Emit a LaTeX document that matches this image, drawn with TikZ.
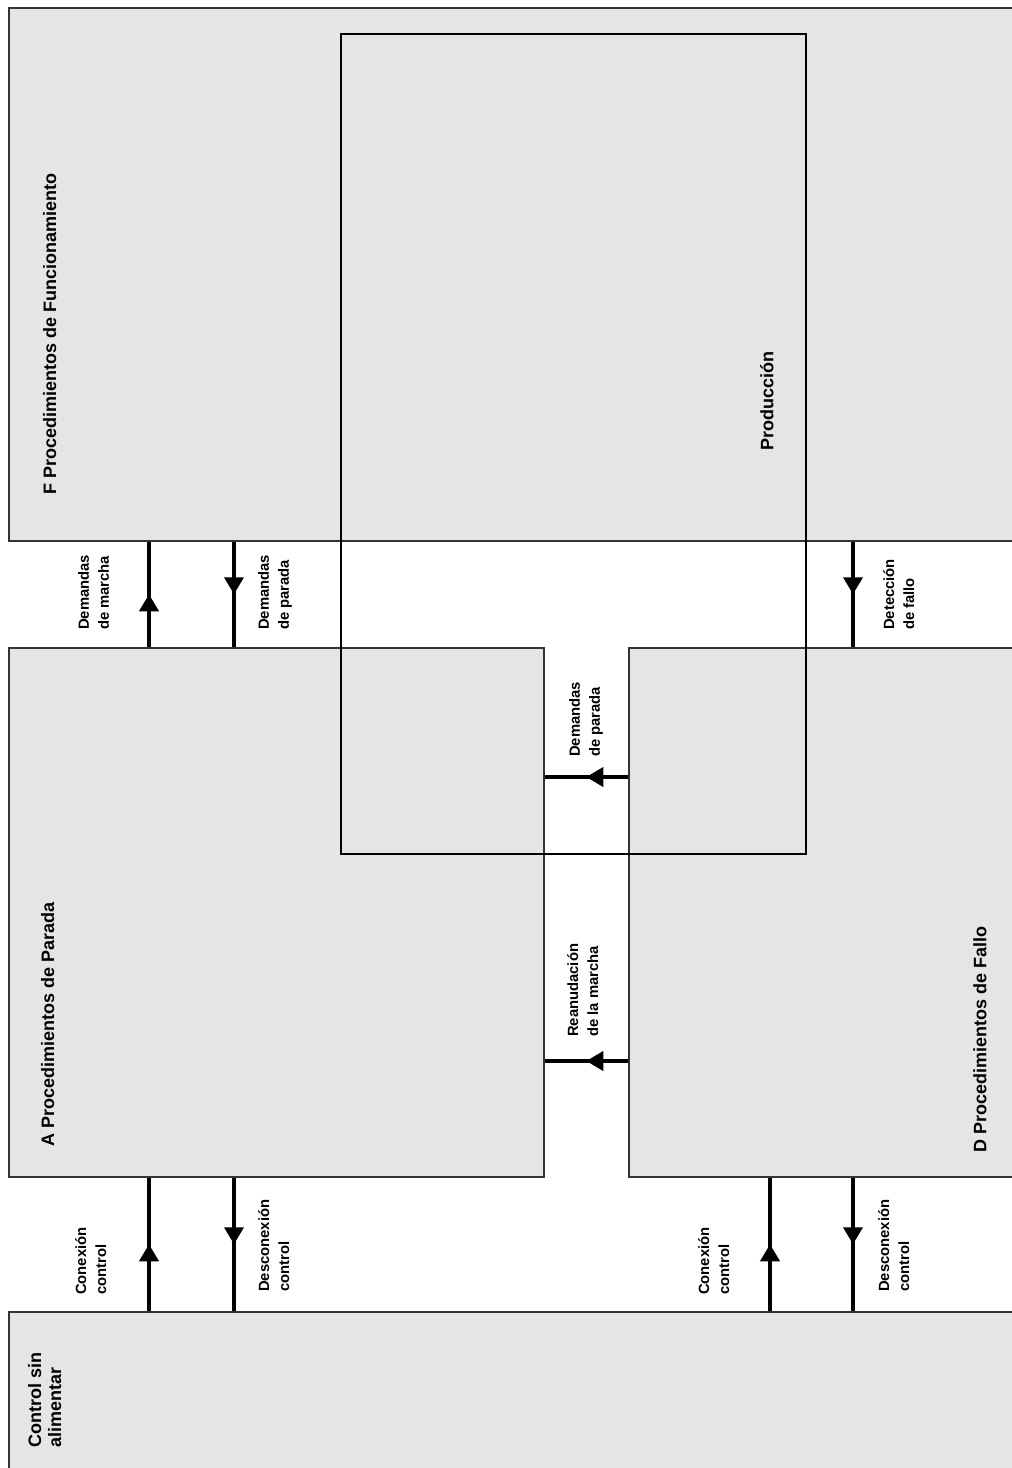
\documentclass[tikz,border=0pt]{standalone}
\usepackage{fontspec}
\setmainfont{Liberation Sans}
\usetikzlibrary{positioning,arrows.meta,decorations.markings}

\begin{document}
\begin{tikzpicture}[x=1pt,y=-1pt,
  bloque/.style={rectangle,draw=black!80,line width=1.5pt,fill=black!10,anchor=north west,inner sep=0pt},
  flujo/.style={line width=3.8pt,postaction={decorate},
    decoration={markings,mark=at position 0.5 with {\arrow{Triangle[length=17pt,width=19pt]}}}},
  titulo/.style={rotate=90,anchor=north west,inner sep=0pt,align=left,font=\fontsize{18}{20}\selectfont\bfseries},
  etiqueta/.style={rotate=90,anchor=north west,inner sep=0pt,align=left,font=\fontsize{14.8}{20}\selectfont\bfseries}]
\useasboundingbox (0,0) rectangle (1012,1468);

% bloques
\node[bloque,minimum width=1012pt,minimum height=533pt] (fproc) at (8,7) {};
\node[bloque,minimum width=535pt,minimum height=529pt] (apar) at (8,647) {};
\node[bloque,minimum width=392pt,minimum height=529pt] (dproc) at (628,647) {};
\node[bloque,minimum width=1012pt,minimum height=170pt] (ctrl) at (8,1311) {};
\node[rectangle,draw=black,line width=2pt,anchor=north west,inner sep=0pt,minimum width=465pt,minimum height=820pt] (prod) at (340,33) {};

\node[titulo] (tfproc) at (43,495) {F Procedimientos de Funcionamiento};
\node[titulo] (tprod) at (760,451) {Producción};
\node[titulo] (tapar) at (41,1147) {A Procedimientos de Parada};
\node[titulo] (tdproc) at (973,1153) {D Procedimientos de Fallo};
\node[titulo] (tctrl) at (28,1448) {Control sin\\alimentar};

% F <-> A
\draw[flujo] ([xshift=141]apar.north west) -- ([xshift=141]fproc.south west);
\draw[flujo] ([xshift=226]fproc.south west) -- ([xshift=226]apar.north west);
\node[etiqueta] (lmarcha) at (78,630) {Demandas\\de marcha};
\node[etiqueta] (lparada) at (258,630) {Demandas\\de parada};

% F -> D
\draw[flujo] ([xshift=225]dproc.north west |- fproc.south) -- ([xshift=225]dproc.north west);
\node[etiqueta] (ldeteccion) at (883,630) {Detección\\de fallo};

% D -> A
\draw[flujo] ([yshift=-130]dproc.north west) -- ([yshift=-130]dproc.north west -| apar.east);
\node[etiqueta] (lparada2) at (569,757) {Demandas\\de parada};
\draw[flujo] ([yshift=-414]dproc.north west) -- ([yshift=-414]dproc.north west -| apar.east);
\node[etiqueta] (lreanuda) at (567,1037) {Reanudación\\de la marcha};

% control <-> A
\draw[flujo] ([xshift=141]ctrl.north west) -- ([xshift=141]apar.south west);
\draw[flujo] ([xshift=226]apar.south west) -- ([xshift=226]ctrl.north west);
\node[etiqueta] (lconex) at (75,1295) {Conexión\\control};
\node[etiqueta] (ldesconex) at (258,1292) {Desconexión\\control};

% control <-> D
\draw[flujo] ([xshift=142]dproc.south west |- ctrl.north) -- ([xshift=142]dproc.south west);
\draw[flujo] ([xshift=225]dproc.south west) -- ([xshift=225]dproc.south west |- ctrl.north);
\node[etiqueta] (lconex2) at (698,1295) {Conexión\\control};
\node[etiqueta] (ldesconex2) at (878,1292) {Desconexión\\control};
\end{tikzpicture}
\end{document}
